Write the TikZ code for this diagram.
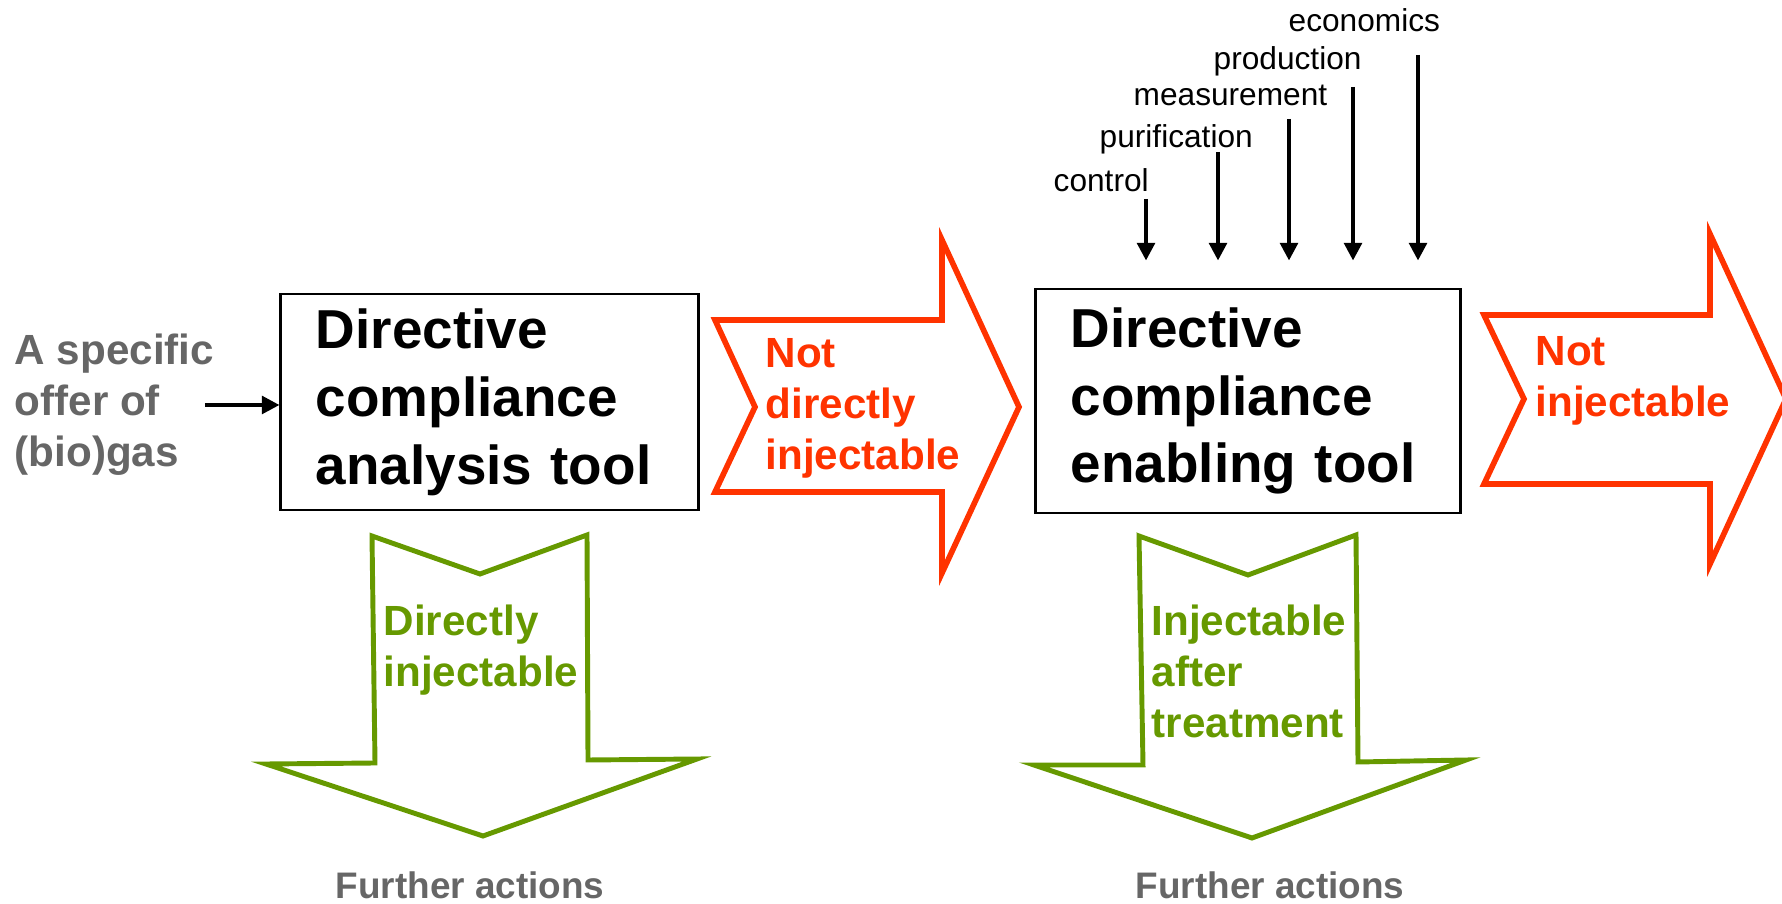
\documentclass[tikz,border=0pt]{standalone}
\usepackage{fontspec}
\setmainfont{Liberation Sans}
\usepackage{tikz}
\usetikzlibrary{arrows.meta,calc}

\definecolor{offergray}{RGB}{102,102,102}
\definecolor{notred}{RGB}{255,51,0}
\definecolor{okgreen}{RGB}{102,153,0}

\begin{document}
\begin{tikzpicture}[x=0.01cm,y=-0.01cm,
    tool box/.style={draw,line width=0.8pt,align=left,inner xsep=0.35cm,inner ysep=0pt,
        font=\fontsize{15.6}{19.3}\selectfont\bfseries},
    flow text/.style={inner sep=0pt,align=left,anchor=west,
        font=\fontsize{12}{14.5}\selectfont\bfseries},
    red arrow/.style={draw=notred,line width=1.6pt},
    green arrow/.style={draw=okgreen,line width=1.4pt},
    further/.style={inner sep=0pt,anchor=base west,text=offergray,
        font=\fontsize{10.5}{12.5}\selectfont\bfseries},
    input/.style={inner sep=0pt,anchor=base west,font=\fontsize{9}{11}\selectfont},
    thin arrow/.style={line width=1.1pt,-{Triangle[length=5pt,width=5pt]}}]
        \useasboundingbox (0,0) rectangle (1782,904);
        % the two tools
        \node[tool box,text width=3.47cm,minimum height=2.16cm] (analysis) at (489.5,402)
            {Directive\\compliance\\analysis tool};
        \node[tool box,text width=3.54cm,minimum height=2.24cm] (enabling) at (1248,401)
            {Directive\\compliance\\enabling tool};
        % offer of gas
        \node[flow text,text=offergray] (offer) at (14,405) {A specific\\offer of\\(bio)gas};
        \draw[thin arrow] ([xshift=-0.1cm]offer.east) -- (offer.east -| analysis.west);
        % not injectable arrows
        \draw[red arrow] (715,320) -- (942,320) -- (942,240) -- (1019,407) -- (942,573)
            -- (942,492) -- (715,492) -- (755,407) -- cycle;
        \node[flow text,text=notred] (notdirect) at (765,408) {Not\\directly\\injectable};
        \draw[red arrow] (1484,315) -- (1710,315) -- (1710,234) -- (1786,399) -- (1710,564)
            -- (1710,484) -- (1484,484) -- (1524,399) -- cycle;
        \node[flow text,text=notred] (notinject) at (1535,381) {Not\\injectable};
        % injectable arrows
        \draw[green arrow] (372,536) -- (480,574) -- (587,535) -- (588,760) -- (697,759)
            -- (483,836) -- (266,764) -- (375,763) -- cycle;
        \node[flow text,text=okgreen] (direct) at (383,650) {Directly\\injectable};
        \node[further] (further-1) at (335,899) {Further actions};
        \draw[green arrow] (1139,536) -- (1248,575) -- (1356,535) -- (1358,762) -- (1466,760)
            -- (1252,838) -- (1034,765) -- (1143,765) -- cycle;
        \node[flow text,text=okgreen] (aftertreat) at (1151,671) {Injectable\\after\\treatment};
        \node[further] (further-2) at (1135,899) {Further actions};
        % inputs of the enabling tool
        \foreach \X/\Lx/\Ly/\Ax/\Ay [count=\Y] in
            {control/1053/192/1146/199,purification/1099/148/1218/152,
             measurement/1133/106/1289/119,production/1213/70/1353/87,
             economics/1288/32/1418/55}
            {\node[input] (in-\Y) at (\Lx,\Ly) {\X};
            \coordinate (src-\Y) at (\Ax,\Ay);
            \draw[thin arrow,shorten >=0.27cm] (src-\Y) -- (src-\Y |- enabling.north);}
\end{tikzpicture}
\end{document}
